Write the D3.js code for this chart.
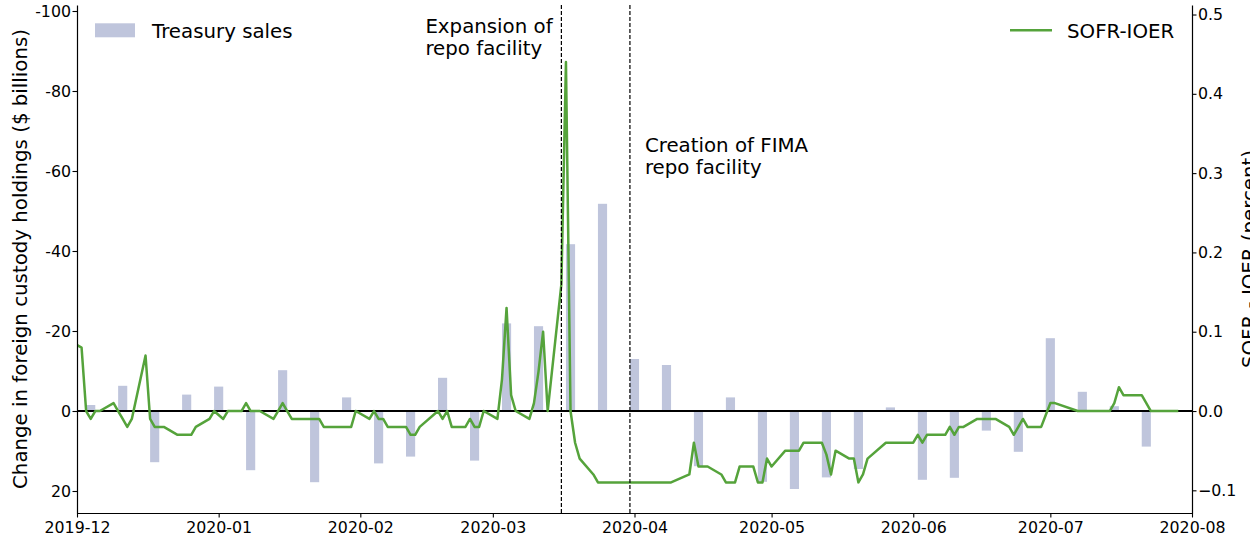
<!DOCTYPE html>
<html>
<head>
<meta charset="utf-8">
<script src="https://cdn.jsdelivr.net/npm/d3@7"></script>
<style>
  body { margin: 0; background: #fff; }
</style>
</head>
<body>
<div id="chart"></div>
<script>
// weekly change in foreign custody holdings ($ billions), negative = sales
const saleDates = [
  "2019-12-04", "2019-12-11", "2019-12-18", "2019-12-25",
  "2020-01-01", "2020-01-08", "2020-01-15", "2020-01-22", "2020-01-29",
  "2020-02-05", "2020-02-12", "2020-02-19", "2020-02-26",
  "2020-03-04", "2020-03-11", "2020-03-18", "2020-03-25",
  "2020-04-01", "2020-04-08", "2020-04-15", "2020-04-22", "2020-04-29",
  "2020-05-06", "2020-05-13", "2020-05-20", "2020-05-27",
  "2020-06-03", "2020-06-10", "2020-06-17", "2020-06-24",
  "2020-07-01", "2020-07-08", "2020-07-15", "2020-07-22"
];
const saleValues = [
  -1.5, -6.3, 12.8, -4.1,
  -6.1, 14.8, -10.2, 17.8, -3.4,
  13.1, 11.4, -8.3, 12.4,
  -21.9, -21.2, -41.7, -51.8,
  -13.0, -11.5, 13.8, -3.4, 17.7,
  19.5, 16.6, 14.5, -0.9,
  17.2, 16.7, 4.9, 10.2,
  -18.2, -4.8, -1.2, 8.9
];

// daily SOFR minus IOER (percent)
const sofrDates = [
  "2019-11-29",
  "2019-12-02", "2019-12-03", "2019-12-04", "2019-12-05", "2019-12-06",
  "2019-12-09", "2019-12-10", "2019-12-11", "2019-12-12", "2019-12-13",
  "2019-12-16", "2019-12-17", "2019-12-18", "2019-12-19", "2019-12-20",
  "2019-12-23", "2019-12-24", "2019-12-26", "2019-12-27",
  "2019-12-30", "2019-12-31",
  "2020-01-02", "2020-01-03",
  "2020-01-06", "2020-01-07", "2020-01-08", "2020-01-09", "2020-01-10",
  "2020-01-13", "2020-01-14", "2020-01-15", "2020-01-16", "2020-01-17",
  "2020-01-21", "2020-01-22", "2020-01-23", "2020-01-24",
  "2020-01-27", "2020-01-28", "2020-01-29", "2020-01-30", "2020-01-31",
  "2020-02-03", "2020-02-04", "2020-02-05", "2020-02-06", "2020-02-07",
  "2020-02-10", "2020-02-11", "2020-02-12", "2020-02-13", "2020-02-14",
  "2020-02-18", "2020-02-19", "2020-02-20", "2020-02-21",
  "2020-02-24", "2020-02-25", "2020-02-26", "2020-02-27", "2020-02-28",
  "2020-03-02", "2020-03-03", "2020-03-04", "2020-03-05", "2020-03-06",
  "2020-03-09", "2020-03-10", "2020-03-11", "2020-03-12", "2020-03-13",
  "2020-03-16", "2020-03-17", "2020-03-18", "2020-03-19", "2020-03-20",
  "2020-03-23", "2020-03-24", "2020-03-25", "2020-03-26", "2020-03-27",
  "2020-03-30", "2020-03-31", "2020-04-01", "2020-04-02", "2020-04-03",
  "2020-04-06", "2020-04-07", "2020-04-08", "2020-04-09",
  "2020-04-13", "2020-04-14", "2020-04-15", "2020-04-16", "2020-04-17",
  "2020-04-20", "2020-04-21", "2020-04-22", "2020-04-23", "2020-04-24",
  "2020-04-27", "2020-04-28", "2020-04-29", "2020-04-30", "2020-05-01",
  "2020-05-04", "2020-05-05", "2020-05-06", "2020-05-07", "2020-05-08",
  "2020-05-11", "2020-05-12", "2020-05-13", "2020-05-14", "2020-05-15",
  "2020-05-18", "2020-05-19", "2020-05-20", "2020-05-21", "2020-05-22",
  "2020-05-26", "2020-05-27", "2020-05-28", "2020-05-29",
  "2020-06-01", "2020-06-02", "2020-06-03", "2020-06-04", "2020-06-05",
  "2020-06-08", "2020-06-09", "2020-06-10", "2020-06-11", "2020-06-12",
  "2020-06-15", "2020-06-16", "2020-06-17", "2020-06-18", "2020-06-19",
  "2020-06-22", "2020-06-23", "2020-06-24", "2020-06-25", "2020-06-26",
  "2020-06-29", "2020-06-30", "2020-07-01", "2020-07-02",
  "2020-07-07", "2020-07-08", "2020-07-09", "2020-07-10",
  "2020-07-13", "2020-07-14", "2020-07-15", "2020-07-16", "2020-07-17",
  "2020-07-20", "2020-07-21", "2020-07-22", "2020-07-23", "2020-07-24",
  "2020-07-27", "2020-07-28", "2020-07-29"
];
const sofrValues = [
  0.09,
  0.08, 0.00, -0.01, 0.00, 0.00,
  0.01, 0.00, -0.01, -0.02, -0.01,
  0.07, -0.01, -0.02, -0.02, -0.02,
  -0.03, -0.03, -0.03, -0.02,
  -0.01, 0.00,
  -0.01, 0.00,
  0.00, 0.01, 0.00, 0.00, 0.00,
  -0.01, 0.00, 0.01, 0.00, -0.01,
  -0.01, -0.01, -0.01, -0.02,
  -0.02, -0.02, -0.02, -0.02, 0.00,
  -0.01, 0.00, -0.01, -0.01, -0.02,
  -0.02, -0.02, -0.03, -0.03, -0.02,
  0.00, -0.01, 0.00, -0.02,
  -0.02, -0.01, -0.02, -0.02, 0.00,
  -0.01, 0.04, 0.13, 0.02, 0.00,
  -0.01, 0.01, 0.05, 0.10, 0.00,
  0.16, 0.44, 0.00, -0.04, -0.06,
  -0.08, -0.09, -0.09, -0.09, -0.09,
  -0.09, -0.09, -0.09, -0.09, -0.09,
  -0.09, -0.09, -0.09, -0.09,
  -0.08, -0.04, -0.07, -0.07, -0.07,
  -0.08, -0.09, -0.09, -0.09, -0.07,
  -0.07, -0.09, -0.09, -0.06, -0.07,
  -0.05, -0.05, -0.05, -0.05, -0.04,
  -0.04, -0.04, -0.055, -0.08, -0.05,
  -0.06, -0.06, -0.09, -0.08, -0.06,
  -0.04, -0.04, -0.04, -0.04,
  -0.04, -0.03, -0.04, -0.03, -0.03,
  -0.03, -0.02, -0.03, -0.02, -0.02,
  -0.01, -0.01, -0.01, -0.01, -0.01,
  -0.02, -0.03, -0.02, -0.01, -0.02,
  -0.02, -0.005, 0.01, 0.01,
  0.00, 0.00, 0.00, 0.00,
  0.00, 0.00, 0.01, 0.03, 0.02,
  0.02, 0.02, 0.01, 0.00, 0.00,
  0.00, 0.00, 0.00
];

const eventDates = ["2020-03-16", "2020-03-31"];
const eventLabels = [["Expansion of", "repo facility"], ["Creation of FIMA", "repo facility"]];

const leftTicks = [-100, -80, -60, -40, -20, 0, 20];
const rightTicks = [-0.1, 0.0, 0.1, 0.2, 0.3, 0.4, 0.5];

const width = 1250;
const height = 540;
const plot = { left: 77, right: 1192, top: 5, bottom: 513 };
const barColor = "#bfc5dc";
const lineColor = "#55a33b";
const labelFont = "19.8px";
const tickFont = "15.8px";
const parse = d3.utcParse("%Y-%m-%d");

const svg = d3.select("#chart")
  .append("svg")
  .attr("width", width)
  .attr("height", height)
  .style("font-family", "'DejaVu Sans', sans-serif");

const x = d3.scaleUtc()
  .domain([parse("2019-12-01"), parse("2020-08-01")])
  .range([plot.left, plot.right]);

// left axis is inverted: sales (negative) point up
const yL = d3.scaleLinear()
  .domain([25.5, -101.5])
  .range([plot.bottom, plot.top]);

const yR = d3.scaleLinear()
  .domain([-0.1286, 0.512])
  .range([plot.bottom, plot.top]);

svg.append("clipPath")
  .attr("id", "plot-clip")
  .append("rect")
  .attr("x", plot.left)
  .attr("y", plot.top)
  .attr("width", plot.right - plot.left)
  .attr("height", plot.bottom - plot.top);

// bars, two days wide
const bars = saleDates.map((d, i) => ({ date: parse(d), value: saleValues[i] }));
const dayMs = 24 * 3600 * 1000;

svg.append("g")
  .attr("clip-path", "url(#plot-clip)")
  .selectAll("rect")
  .data(bars)
  .join("rect")
  .attr("x", d => x(new Date(+d.date - dayMs)))
  .attr("width", d => x(new Date(+d.date + dayMs)) - x(new Date(+d.date - dayMs)))
  .attr("y", d => Math.min(yL(d.value), yL(0)))
  .attr("height", d => Math.abs(yL(d.value) - yL(0)))
  .attr("fill", barColor);

// zero line
svg.append("line")
  .attr("x1", plot.left)
  .attr("x2", plot.right)
  .attr("y1", yL(0))
  .attr("y2", yL(0))
  .attr("stroke", "#000")
  .attr("stroke-width", 2);

// SOFR-IOER line
const sofr = sofrDates.map((d, i) => ({ date: parse(d), value: sofrValues[i] }));
const line = d3.line()
  .x(d => x(d.date))
  .y(d => yR(d.value));

svg.append("path")
  .datum(sofr)
  .attr("clip-path", "url(#plot-clip)")
  .attr("fill", "none")
  .attr("stroke", lineColor)
  .attr("stroke-width", 2.5)
  .attr("stroke-linejoin", "round")
  .attr("d", line);

// event lines
svg.append("g")
  .selectAll("line")
  .data(eventDates)
  .join("line")
  .attr("x1", d => x(parse(d)))
  .attr("x2", d => x(parse(d)))
  .attr("y1", plot.top)
  .attr("y2", plot.bottom)
  .attr("stroke", "#000")
  .attr("stroke-width", 1.2)
  .attr("stroke-dasharray", "4,2");

// annotations
const annoPos = [
  { dx: -136, y: 33.3 },
  { dx: 15, y: 151.5 }
];
eventLabels.forEach((lines, i) => {
  const t = svg.append("text")
    .attr("font-size", labelFont)
    .attr("fill", "#000");
  lines.forEach((s, j) => {
    t.append("tspan")
      .attr("x", x(parse(eventDates[i])) + annoPos[i].dx)
      .attr("y", annoPos[i].y + j * 22)
      .text(s);
  });
});

// axes
function styleAxis(g) {
  g.select(".domain").attr("stroke-width", 1.2);
  g.selectAll(".tick line").attr("stroke-width", 1.1);
  g.selectAll("text")
    .attr("font-size", tickFont)
    .attr("font-family", "'DejaVu Sans', sans-serif")
    .attr("fill", "#000");
}

svg.append("g")
  .attr("transform", `translate(${plot.left},0)`)
  .call(d3.axisLeft(yL).tickValues(leftTicks).tickFormat(d => String(d))
    .tickSize(4.5).tickPadding(1.5).tickSizeOuter(0))
  .call(styleAxis);

svg.append("g")
  .attr("transform", `translate(${plot.right},0)`)
  .call(d3.axisRight(yR).tickValues(rightTicks).tickFormat(d3.format(".1f"))
    .tickSize(4.5).tickPadding(1.5).tickSizeOuter(0))
  .call(styleAxis);

svg.append("g")
  .attr("transform", `translate(0,${plot.bottom})`)
  .call(d3.axisBottom(x).ticks(d3.utcMonth.every(1)).tickFormat(d3.utcFormat("%Y-%m"))
    .tickSize(4.5).tickPadding(4).tickSizeOuter(0))
  .call(styleAxis);

// axis titles
svg.append("text")
  .attr("transform", `translate(27,${(plot.top + plot.bottom) / 2}) rotate(-90)`)
  .attr("text-anchor", "middle")
  .attr("font-size", labelFont)
  .text("Change in foreign custody holdings ($ billions)");

svg.append("text")
  .attr("transform", `translate(1256,${(plot.top + plot.bottom) / 2}) rotate(-90)`)
  .attr("text-anchor", "middle")
  .attr("font-size", labelFont)
  .text("SOFR - IOER (percent)");

// legends
svg.append("rect")
  .attr("x", 95).attr("y", 23.3)
  .attr("width", 40).attr("height", 14)
  .attr("fill", barColor);
svg.append("text")
  .attr("x", 152).attr("y", 37.5)
  .attr("font-size", labelFont)
  .text("Treasury sales");

svg.append("line")
  .attr("x1", 1010).attr("x2", 1052)
  .attr("y1", 30.3).attr("y2", 30.3)
  .attr("stroke", lineColor)
  .attr("stroke-width", 2.5);
svg.append("text")
  .attr("x", 1067).attr("y", 37.5)
  .attr("font-size", labelFont)
  .text("SOFR-IOER");
</script>
</body>
</html>
